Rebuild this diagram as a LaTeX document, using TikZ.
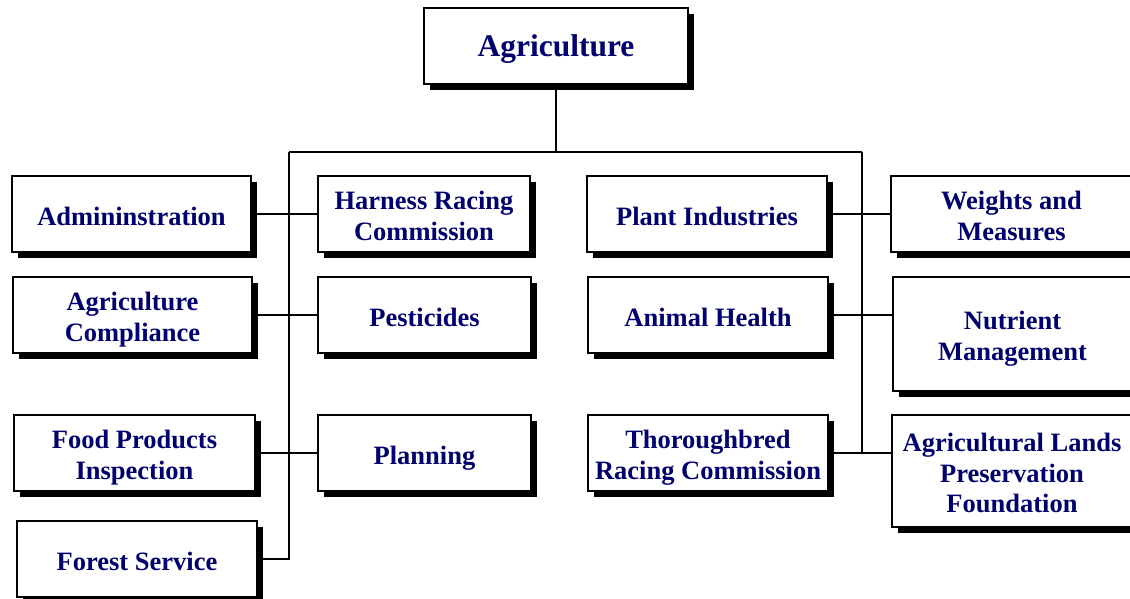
\documentclass[tikz,border=0pt]{standalone}
\usepackage{fontspec}
\setmainfont{Liberation Serif}
\usetikzlibrary{shadows}
\definecolor{navy}{RGB}{0,0,110}
\newcommand{\lowtxt}[2][5pt]{\raisebox{-#1}[\height][\depth]{\begin{tabular}{@{}c@{}}#2\end{tabular}}}
\tikzset{
  orgbox/.style={draw=black, line width=1.3pt, fill=white,
    font=\bfseries\fontsize{26.5}{30.8}\selectfont, text=navy, align=center,
    inner sep=0pt, minimum height=76pt,
    drop shadow={shadow xshift=6pt, shadow yshift=-6pt, fill=black, opacity=1}},
  conn/.style={line width=2pt}
}
\begin{document}
\begin{tikzpicture}[x=1pt,y=-1pt]
\useasboundingbox (0,0) rectangle (1130,599);
\clip (0,0) rectangle (1130,599);
\fill[white] (0,0) rectangle (1130,599);

\node[orgbox, minimum width=264pt, font=\bfseries\fontsize{31.5}{36}\selectfont] (agri) at (556,46) {\lowtxt[3pt]{Agriculture}};

\node[orgbox, minimum width=239pt] (admin) at (131.5,214) {\lowtxt{Admininstration}};
\node[orgbox, minimum width=239pt] (compl) at (132.5,315) {\lowtxt{Agriculture\\Compliance}};
\node[orgbox, minimum width=241pt] (food) at (134.5,453) {\lowtxt{Food Products\\Inspection}};
\node[orgbox, minimum width=240pt] (forest) at (137,559) {\lowtxt{Forest Service}};

\node[orgbox, minimum width=212pt] (harness) at (424,214) {\lowtxt{Harness Racing\\Commission}};
\node[orgbox, minimum width=213pt] (pest) at (424.5,315) {\lowtxt{Pesticides}};
\node[orgbox, minimum width=213pt] (plan) at (424.5,453) {\lowtxt{Planning}};

\node[orgbox, minimum width=240pt] (plant) at (707,214) {\lowtxt{Plant Industries}};
\node[orgbox, minimum width=240pt] (animal) at (708,315) {\lowtxt{Animal Health}};
\node[orgbox, minimum width=240pt] (thor) at (708,453) {\lowtxt{Thoroughbred\\Racing Commission}};

\node[orgbox, minimum width=241pt] (weights) at (1011.5,214) {\lowtxt{Weights and\\Measures}};
\node[orgbox, minimum width=239pt, minimum height=114pt] (nutr) at (1012.5,334) {\lowtxt{Nutrient\\Management}};
\node[orgbox, minimum width=240pt, minimum height=112pt] (alpf) at (1012,471) {\lowtxt{Agricultural Lands\\Preservation\\Foundation}};

\coordinate (jM) at (556,152);
\coordinate (jL) at (289,152);
\coordinate (jR) at (862,152);

\draw[conn] (agri.south) -- (jM);
\draw[conn] (jL) -- (jR);
\draw[conn] (jL) |- (forest.east);
\draw[conn] (jR) |- (thor.east);

\draw[conn] (admin.east) -- (harness.west);
\draw[conn] (compl.east) -- (pest.west);
\draw[conn] (food.east) -- (plan.west);

\draw[conn] (plant.east) -- (weights.west);
\draw[conn] (animal.east) -- (animal.east -| nutr.west);
\draw[conn] (thor.east) -- (thor.east -| alpf.west);
\end{tikzpicture}
\end{document}
